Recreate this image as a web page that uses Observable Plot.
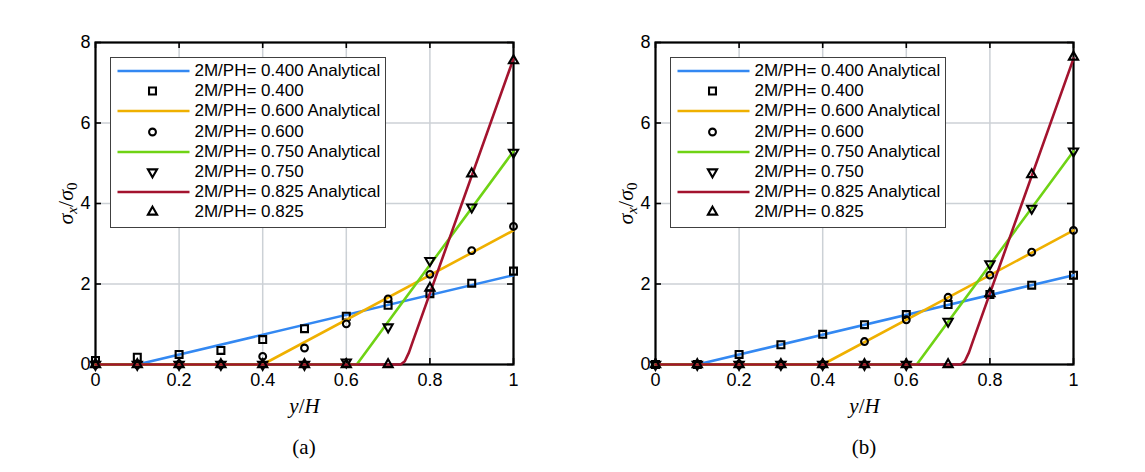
<!DOCTYPE html>
<html><head><meta charset="utf-8">
<script src="https://cdn.jsdelivr.net/npm/d3@7"></script>
<script src="https://cdn.jsdelivr.net/npm/@observablehq/plot@0.6"></script>
<style>
body{margin:0;background:#fff;width:1145px;height:472px;overflow:hidden;font-family:"Liberation Sans",Arial,sans-serif;}
#wrap{display:flex;}
.panel{position:relative;width:560px;height:472px;}
.caption{position:absolute;left:95px;width:418px;top:420px;height:54px;line-height:54px;text-align:center;font-family:"Liberation Serif","Times New Roman",serif;font-size:21px;color:#000;}
.legend{position:absolute;left:110px;top:57px;width:276px;height:171px;box-sizing:border-box;border:1.5px solid #404040;background:#fff;overflow:hidden;padding-top:3px;}
.row{display:flex;align-items:center;height:20.2px;white-space:nowrap;}
.row span{font-size:17px;color:#000;}
.row svg{flex:none;}
</style></head>
<body><div id="wrap"></div>
<script>
// ---- data ----
const xNum = [0, 0.1, 0.2, 0.3, 0.4, 0.5, 0.6, 0.7, 0.8, 0.9, 1];
const xTicks = [0, 0.2, 0.4, 0.6, 0.8, 1];
const yTicks = [0, 2, 4, 6, 8];
const ratioLabels = ["0.400", "0.600", "0.750", "0.825"];
const seriesColors = ["#3388f2", "#efb000", "#6fd314", "#a3132e"];
const panelCaptions = ["(a)", "(b)"];

// analytical solutions (breakpoints)
const anX_0400 = [0, 0.1, 1];          const anY_0400 = [0, 0, 2.22];
const anX_0600 = [0, 0.4, 1];          const anY_0600 = [0, 0, 3.33];
const anX_0750 = [0, 0.625, 1];        const anY_0750 = [0, 0, 5.3];
const anX_0825 = [0, 0.73, 0.74, 0.75, 0.76, 1]; const anY_0825 = [0, 0, 0.08, 0.3, 0.6, 7.6];

// numerical results, panel (a)
const numA_0400 = [0.10, 0.18, 0.25, 0.35, 0.62, 0.89, 1.20, 1.47, 1.76, 2.02, 2.32];
const numA_0600 = [0, 0, 0, 0, 0.20, 0.41, 1.01, 1.63, 2.24, 2.83, 3.43];
const numA_0750 = [0, 0, 0, 0, 0, 0, 0.06, 0.93, 2.58, 3.91, 5.27];
const numA_0825 = [0, 0, 0, 0, 0, 0, 0, 0, 1.90, 4.74, 7.55];
// numerical results, panel (b)
const numB_0400 = [0, 0, 0.25, 0.49, 0.75, 0.99, 1.24, 1.49, 1.74, 1.97, 2.22];
const numB_0600 = [0, 0, 0, 0, 0, 0.57, 1.11, 1.67, 2.22, 2.79, 3.33];
const numB_0750 = [0, 0, 0, 0, 0, 0, 0, 1.07, 2.50, 3.88, 5.30];
const numB_0825 = [0, 0, 0, 0, 0, 0, 0, 0, 1.76, 4.72, 7.64];

// ---- symbols ----
const sqrt3 = Math.sqrt(3);
const triangleDown = {draw(ctx, size) {
  const y = -Math.sqrt(size / (sqrt3 * 3));
  ctx.moveTo(0, -y * 2); ctx.lineTo(-sqrt3 * y, y); ctx.lineTo(sqrt3 * y, y); ctx.closePath();
}};
const symbols = ["square", "circle", triangleDown, "triangle"];
const symbolR = [3.9, 3.4, 3.4, 3.4];
const d3Symbols = [d3.symbolSquare, d3.symbolCircle, triangleDown, d3.symbolTriangle];

const analytic = [[anX_0400, anY_0400], [anX_0600, anY_0600], [anX_0750, anY_0750], [anX_0825, anY_0825]];
const numeric = [[numA_0400, numA_0600, numA_0750, numA_0825], [numB_0400, numB_0600, numB_0750, numB_0825]];

const W = 560, H = 420, mL = 95, mR = 47, mT = 42, mB = 56;
const plotW = W - mL - mR, plotH = H - mT - mB;

function makePanel(p) {
  const marks = [
    Plot.gridX(xTicks, {stroke: "#ccd1d6", strokeOpacity: 1, strokeWidth: 1.5}),
    Plot.gridY(yTicks, {stroke: "#ccd1d6", strokeOpacity: 1, strokeWidth: 1.5}),
    Plot.frame({stroke: "#000", strokeWidth: 2.2}),
    Plot.tickX(xTicks, {x: d => d, insetTop: plotH - 6, stroke: "#000", strokeWidth: 1.6}),
    Plot.tickX(xTicks, {x: d => d, insetBottom: plotH - 6, stroke: "#000", strokeWidth: 1.6}),
    Plot.tickY(yTicks, {y: d => d, insetRight: plotW - 6, stroke: "#000", strokeWidth: 1.6}),
    Plot.tickY(yTicks, {y: d => d, insetLeft: plotW - 6, stroke: "#000", strokeWidth: 1.6}),
    Plot.axisX(xTicks, {tickSize: 0, tickPadding: 9, tickFormat: d => String(d), label: "y/H", labelAnchor: "center", labelOffset: 48}),
    Plot.axisY(yTicks, {tickSize: 0, tickPadding: 5, tickFormat: d => String(d), label: "σx/σ0", labelAnchor: "center", labelOffset: 38})
  ];
  for (let s = 0; s < 4; s++) {
    const [ax, ay] = analytic[s];
    const lineData = ax.map((x, i) => ({x, y: ay[i]}));
    marks.push(Plot.line(lineData, {x: "x", y: "y", stroke: seriesColors[s], strokeWidth: 2.6}));
    const vals = numeric[p][s];
    const ptData = xNum.map((x, i) => ({x, y: vals[i]}));
    marks.push(Plot.dot(ptData, {x: "x", y: "y", symbol: () => symbols[s], r: symbolR[s], stroke: "#000", strokeWidth: 2.1, fill: "none"}));
  }
  const chart = Plot.plot({
    width: W, height: H, marginLeft: mL, marginRight: mR, marginTop: mT, marginBottom: mB,
    x: {domain: [0, 1]},
    y: {domain: [0, 8]},
    style: {fontFamily: "'Liberation Sans', Arial, sans-serif", fontSize: "18px", color: "#000", background: "transparent", overflow: "visible"},
    marks
  });
  // style axis labels
  const yl = d3.select(chart).select('[aria-label="y-axis label"] text');
  yl.text(null).attr("font-family", "'Liberation Serif', 'Times New Roman', serif").attr("font-size", 22);
  yl.append("tspan").attr("font-style", "italic").text("σ");
  yl.append("tspan").attr("font-style", "italic").attr("font-size", 15).attr("dy", 4).text("x");
  yl.append("tspan").attr("dy", -4).text("/");
  yl.append("tspan").attr("font-style", "italic").text("σ");
  yl.append("tspan").attr("font-size", 15).attr("dy", 4).text("0");
  const xl = d3.select(chart).select('[aria-label="x-axis label"] text');
  xl.text(null).attr("font-family", "'Liberation Serif', 'Times New Roman', serif").attr("font-size", 21);
  xl.append("tspan").attr("font-style", "italic").text("y");
  xl.append("tspan").text("/");
  xl.append("tspan").attr("font-style", "italic").text("H");

  const panel = d3.select("#wrap").append("div").attr("class", "panel");
  panel.node().appendChild(chart);
  // legend
  const leg = panel.append("div").attr("class", "legend");
  for (let s = 0; s < 4; s++) {
    const r1 = leg.append("div").attr("class", "row");
    const sv1 = r1.append("svg").attr("width", 83.5).attr("height", 20);
    sv1.append("line").attr("x1", 6.5).attr("x2", 78.5).attr("y1", 10).attr("y2", 10).attr("stroke", seriesColors[s]).attr("stroke-width", 2.6);
    r1.append("span").text(`2M/PH= ${ratioLabels[s]} Analytical`);
    const r2 = leg.append("div").attr("class", "row");
    const sv2 = r2.append("svg").attr("width", 83.5).attr("height", 20);
    sv2.append("path").attr("transform", "translate(41.5,10)")
      .attr("d", d3.symbol(d3Symbols[s], Math.PI * symbolR[s] * symbolR[s])())
      .attr("fill", "none").attr("stroke", "#000").attr("stroke-width", 2.1);
    r2.append("span").text(`2M/PH= ${ratioLabels[s]}`);
  }
  panel.append("div").attr("class", "caption").text(panelCaptions[p]);
}
makePanel(0);
makePanel(1);
</script>
</body></html>
